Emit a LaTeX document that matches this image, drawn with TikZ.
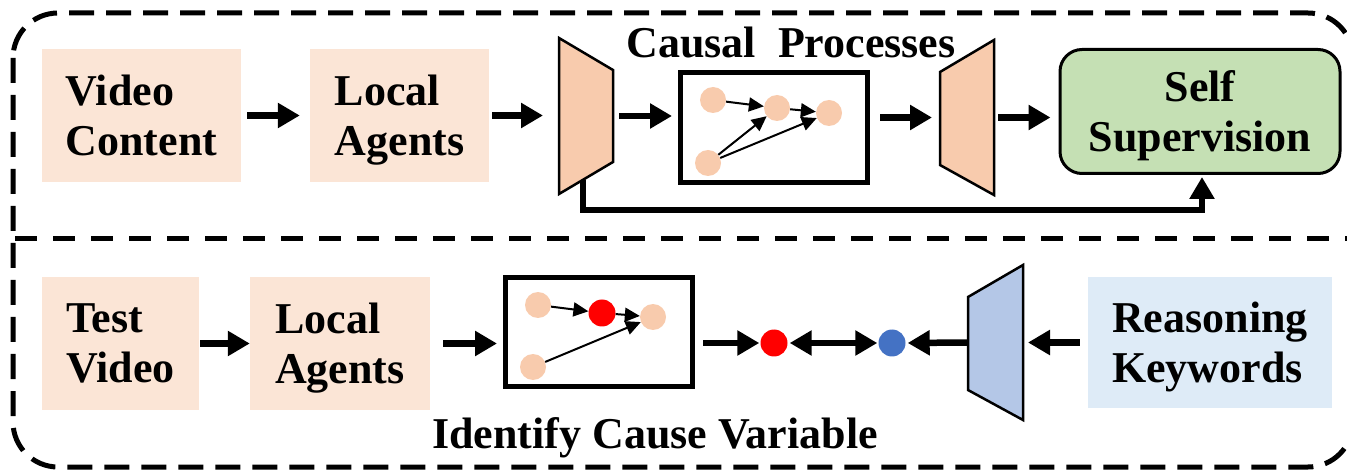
\documentclass[tikz,border=0pt]{standalone}
\usepackage{fontspec}
\setmainfont{Liberation Serif}
\usetikzlibrary{arrows.meta,calc}
\definecolor{boxpeach}{HTML}{FBE5D6}
\definecolor{peach}{HTML}{F8CBAD}
\definecolor{sgreen}{HTML}{C5E0B4}
\definecolor{lblue}{HTML}{DEEBF7}
\definecolor{tblue}{HTML}{B4C7E7}
\definecolor{dblue}{HTML}{4472C4}
\begin{document}
\begin{tikzpicture}[x=1pt,y=-1pt,
  txt/.style={font=\bfseries\fontsize{44}{50}\selectfont},
  pbox/.style={txt, fill=boxpeach, inner sep=0, align=left, text depth=0pt},
  bigarrow/.style={line width=6.5pt, -{Triangle[length=22pt,width=24pt]}},
  dblarrow/.style={line width=6.5pt, {Triangle[length=22pt,width=24pt]}-{Triangle[length=22pt,width=24pt]}},
  smallarrow/.style={line width=2pt, -{Triangle[length=15pt,width=14pt]}},
  agent/.style={circle, fill=peach, minimum size=26pt, inner sep=0},
  graphbox/.style={draw, line width=5pt, inner sep=0},
  trap/.style={inner sep=0, outer sep=0},
  trapline/.style={draw, line width=2.5pt, line join=miter},
  frame/.style={line width=5pt, dash pattern=on 25pt off 12pt},
]
\useasboundingbox (0,0) rectangle (1347,470);

% outer frame and separator
\begin{scope}
\clip (0,0) rectangle (1347,470);
\draw[frame, rounded corners=45pt] (13,13) rectangle (1353,467);
\end{scope}
\draw[line width=5pt, dash pattern=on 22pt off 16pt] (15,239) -- (1347,239);

% ---------- top row ----------
\node[pbox, minimum width=199pt, minimum height=133pt] (vc) at (141.5,115.5) {Video\\Content};
\node[pbox, minimum width=179pt, minimum height=133pt] (la) at (399.5,115.5) {Local\\Agents};
\node[trap, minimum width=54pt, minimum height=156pt] (enc) at (586,116) {};
\node[graphbox, minimum width=187pt, minimum height=110pt] (cg) at (774,127.5) {};
\node[trap, minimum width=54pt, minimum height=155pt] (dec) at (967,117.5) {};
\node[txt, draw, line width=3pt, fill=sgreen, rounded corners=22pt, align=center, text depth=0pt,
      minimum width=280pt, minimum height=124pt, inner sep=0] (ss) at (1200,111.5) {Self\\Supervision};
\node[txt, inner sep=0] (cp) at (791,42.5) {Causal\ \ Processes};

% feedback connector (drawn below the encoder)
\coordinate (fb) at (583,180);
\coordinate (fbc) at (1202,210);
\draw[bigarrow, shorten >=2pt] (fb) |- (fbc) -- (fbc |- ss.south);

% encoder / decoder shapes
\draw[trapline, fill=peach] (enc.north west) -- ($(enc.north east)+(0,32)$)
  -- ($(enc.south east)+(0,-32)$) -- (enc.south west) -- cycle;
\draw[trapline, fill=peach] ($(dec.north west)+(0,32)$) -- (dec.north east)
  -- (dec.south east) -- ($(dec.south west)+(0,-30)$) -- cycle;

% graph inside causal box
\node[agent] (a1) at (713,100) {};
\node[agent] (a2) at (777,108) {};
\node[agent] (a3) at (829,113) {};
\node[agent] (a4) at (708,163) {};
\draw[smallarrow] (a1) -- (a2);
\draw[smallarrow] (a2) -- (a3);
\draw[smallarrow] (a4) -- (a2);
\draw[smallarrow] (a4) -- (a3);

% top row arrows
\draw[bigarrow, shorten <=6pt, shorten >=10pt] (vc.east) -- (la.west);
\draw[bigarrow, shorten <=3pt, shorten >=16pt] (la.east) -- (la.east -| enc.west);
\draw[bigarrow, shorten <=6pt, shorten >=6pt] (enc.east) -- (enc.east -| cg.west);
\draw[bigarrow, shorten <=10pt, shorten >=8pt] (cg.east |- dec.west) -- (dec.west);
\draw[bigarrow, shorten <=4pt, shorten >=8pt] (dec.east) -- (dec.east -| ss.west);

% ---------- bottom row ----------
\node[pbox, minimum width=157pt, minimum height=133pt] (tv) at (120.5,343.5) {Test\\Video};
\node[pbox, minimum width=180pt, minimum height=133pt] (lb) at (340,343.5) {Local\\Agents};
\node[graphbox, minimum width=187pt, minimum height=109pt] (cg2) at (599,332) {};
\node[circle, fill=red, minimum size=27pt, inner sep=0] (rc) at (774,343) {};
\node[circle, fill=dblue, minimum size=27pt, inner sep=0] (bc) at (892,343) {};
\node[trap, minimum width=55pt, minimum height=155pt] (kd) at (995.5,342.5) {};
\node[txt, fill=lblue, inner sep=0, align=left, text depth=0pt, minimum width=244pt, minimum height=131pt] (rk) at (1210,342.5) {Reasoning\\Keywords};
\node[txt, inner sep=0] (icv) at (655,438) {Identify Cause Variable};

\draw[trapline, fill=tblue] ($(kd.north west)+(0,32)$) -- (kd.north east)
  -- (kd.south east) -- ($(kd.south west)+(0,-30)$) -- cycle;

\node[agent] (b1) at (538,305) {};
\node[circle, fill=red, minimum size=27pt, inner sep=0] (b2) at (602,313) {};
\node[agent] (b3) at (653,317) {};
\node[agent] (b4) at (533,367) {};
\draw[smallarrow] (b1) -- (b2);
\draw[smallarrow] (b2) -- (b3);
\draw[smallarrow] (b4) -- (b3);

\draw[bigarrow, shorten <=1pt] (tv.east) -- (lb.west);
\draw[bigarrow, shorten <=13pt, shorten >=6pt] (lb.east) -- (lb.east -| cg2.west);
\draw[bigarrow, shorten <=8pt, shorten >=1pt] (cg2.east |- rc.west) -- (rc.west);
\draw[dblarrow, shorten <=2pt, shorten >=1pt] (rc.east) -- (bc.west);
\draw[bigarrow, shorten >=2pt] (kd.west) -- (bc.east);
\draw[bigarrow, shorten <=8pt, shorten >=5pt] (rk.west) -- (kd.east);
\end{tikzpicture}
\end{document}
